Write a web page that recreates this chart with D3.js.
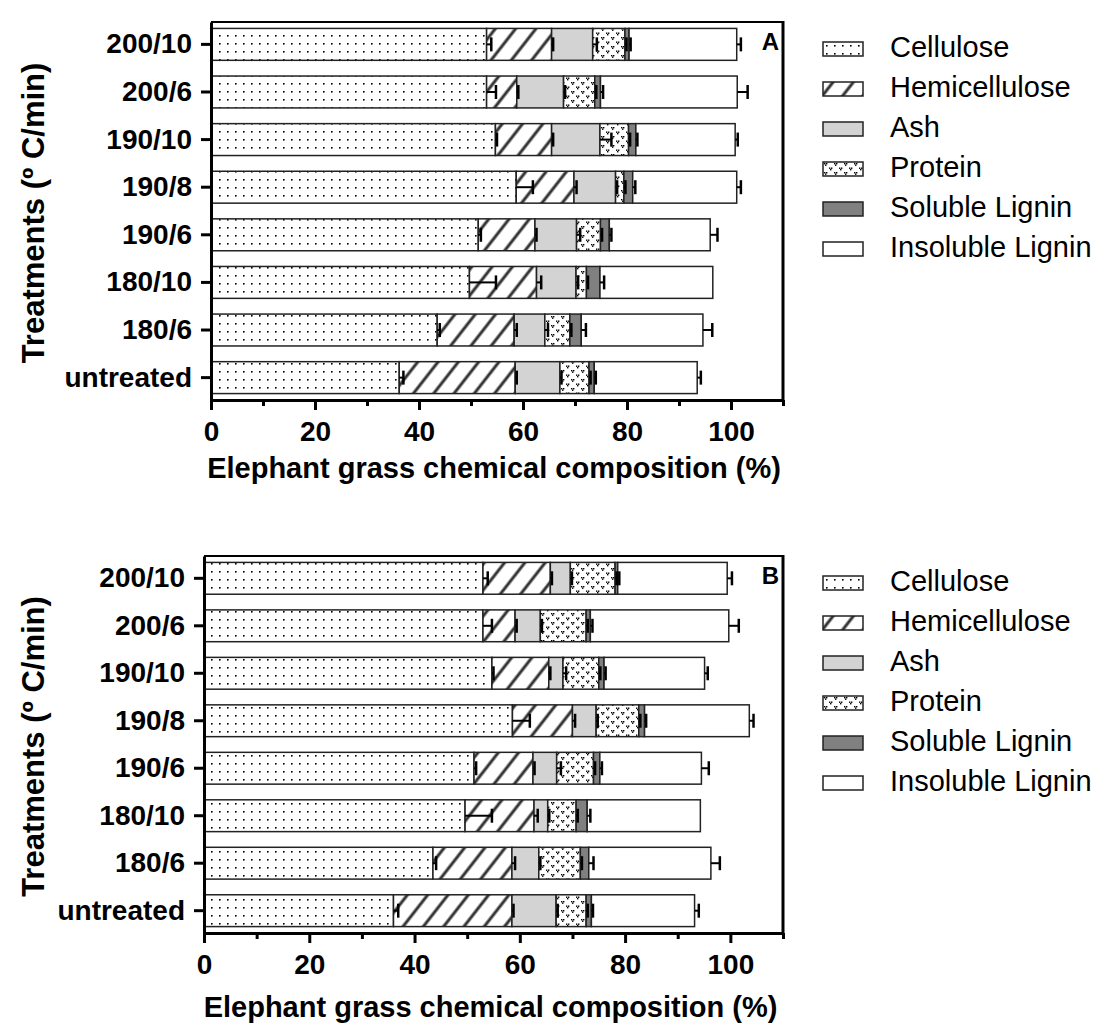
<!DOCTYPE html>
<html>
<head>
<meta charset="utf-8">
<script src="https://cdn.jsdelivr.net/npm/d3@7"></script>
<style>
  body { margin: 0; background: #fff; }
  text { font-family: "Liberation Sans", Arial, sans-serif; }
</style>
</head>
<body>
<script>
// categories, top to bottom
var treatments = ["200/10", "200/6", "190/10", "190/8", "190/6", "180/10", "180/6", "untreated"];
var components = ["Cellulose", "Hemicellulose", "Ash", "Protein", "Soluble Lignin", "Insoluble Lignin"];
var xTicks = [0, 20, 40, 60, 80, 100];
var xMinor = [10, 30, 50, 70, 90, 110];

// panel A: segment values (%) per component
var celluloseA = [53.0, 53.0, 54.7, 58.7, 51.4, 49.7, 43.5, 36.2];
var hemiA      = [12.5, 5.8, 10.8, 11.1, 10.9, 12.9, 14.8, 22.3];
var ashA       = [7.9, 9.0, 9.3, 8.0, 8.0, 7.6, 5.9, 8.6];
var proteinA   = [6.2, 6.0, 5.5, 1.6, 4.6, 2.0, 4.8, 5.6];
var solLigA    = [0.8, 1.1, 1.4, 1.7, 1.7, 2.6, 2.2, 1.0];
var insolLigA  = [20.7, 26.3, 19.1, 20.0, 19.4, 21.7, 23.4, 19.8];
// panel A: error (sd)
var celluloseErrA = [0.9, 1.8, 0.3, 3.2, 0.5, 5.1, 0.5, 0.8];
var hemiErrA      = [0.3, 0.3, 0.3, 0.5, 0.3, 0.9, 0.5, 0.3];
var ashErrA       = [0.8, 0.3, 2.2, 0.3, 0.7, 0.4, 0.6, 0.3];
var proteinErrA   = [0.3, 0.3, 0.3, 0.3, 0.3, 0.3, 0.3, 0.3];
var solLigErrA    = [0.3, 0.5, 0.3, 0.5, 0.4, 0.8, 0.9, 0.3];
var insolLigErrA  = [0.8, 2.0, 0.5, 0.8, 1.4, 0, 1.8, 0.7];

// panel B
var celluloseB = [53.0, 53.0, 54.7, 58.6, 51.3, 49.6, 43.5, 36.0];
var hemiB      = [12.8, 6.1, 10.8, 11.4, 11.2, 13.1, 15.0, 22.5];
var ashB       = [3.8, 4.8, 2.7, 4.5, 4.5, 2.6, 5.1, 8.4];
var proteinB   = [8.5, 8.7, 6.8, 8.1, 7.0, 5.4, 7.9, 5.7];
var solLigB    = [0.5, 0.8, 1.0, 1.1, 1.2, 2.1, 1.6, 1.0];
var insolLigB  = [20.8, 26.3, 19.1, 19.9, 19.3, 21.5, 23.2, 19.6];
var celluloseErrB = [0.9, 1.7, 0.3, 3.3, 0.4, 5.1, 0.6, 0.9];
var hemiErrB      = [0.3, 0.3, 0.3, 0.5, 0.3, 0.7, 0.6, 0.3];
var ashErrB       = [0.3, 0.3, 0.6, 0.3, 0.8, 0.3, 0.3, 0.3];
var proteinErrB   = [0.3, 0.3, 0.3, 0.3, 0.3, 0.3, 0.3, 0.3];
var solLigErrB    = [0.3, 0.4, 0.3, 0.3, 0.4, 0.6, 0.9, 0.3];
var insolLigErrB  = [0.9, 1.9, 0.6, 0.8, 1.4, 0, 1.7, 0.8];

var width = 1107, height = 1023;

var svg = d3.select("body").append("svg")
    .attr("width", width)
    .attr("height", height);

var defs = svg.append("defs");

// dotted fill for cellulose
var pCell = defs.append("pattern").attr("id", "pCell")
    .attr("patternUnits", "userSpaceOnUse").attr("width", 8).attr("height", 8);
pCell.append("rect").attr("width", 8).attr("height", 8).attr("fill", "#fff");
pCell.append("rect").attr("x", 3).attr("y", 3).attr("width", 1.6).attr("height", 1.6).attr("fill", "#000");

// diagonal hatch for hemicellulose
var pHemi = defs.append("pattern").attr("id", "pHemi")
    .attr("patternUnits", "userSpaceOnUse").attr("width", 16).attr("height", 16)
    .attr("patternTransform", "rotate(38)");
pHemi.append("rect").attr("width", 16).attr("height", 16).attr("fill", "#fff");
pHemi.append("line").attr("x1", 8).attr("x2", 8).attr("y1", 0).attr("y2", 16)
    .attr("stroke", "#333").attr("stroke-width", 3);

// speckled fill for protein
var pProt = defs.append("pattern").attr("id", "pProt")
    .attr("patternUnits", "userSpaceOnUse").attr("width", 10).attr("height", 9);
pProt.append("rect").attr("width", 10).attr("height", 9).attr("fill", "#fff");
[[1, 1], [3, 1], [2, 2.5], [6, 5.5], [8, 5.5], [7, 7]].forEach(function(p) {
    pProt.append("rect").attr("x", p[0]).attr("y", p[1]).attr("width", 1.4).attr("height", 1.4).attr("fill", "#000");
});

var fills = ["url(#pCell)", "url(#pHemi)", "#d3d3d3", "url(#pProt)", "#808080", "#fff"];

function drawPanel(opt, segs, errs) {
    var g = svg.append("g");

    var x = d3.scaleLinear().domain([0, 110]).range([opt.left, opt.right]);
    var y = d3.scaleBand().domain(treatments).range([opt.top, opt.bottom])
        .paddingInner(0.33).paddingOuter(0.135);

    // build stacked rows
    var rows = treatments.map(function(t, i) {
        var row = { name: t };
        components.forEach(function(c, k) { row[c] = segs[k][i]; });
        return row;
    });
    var stacked = d3.stack().keys(components)(rows);

    stacked.forEach(function(layer, k) {
        g.selectAll(null).data(layer).enter().append("rect")
            .attr("x", function(d) { return x(d[0]); })
            .attr("y", function(d) { return y(d.data.name); })
            .attr("width", function(d) { return x(d[1]) - x(d[0]); })
            .attr("height", y.bandwidth())
            .attr("fill", fills[k])
            .attr("stroke", "#222")
            .attr("stroke-width", 1.5);
    });

    // error bars at the end of each segment
    stacked.forEach(function(layer, k) {
        layer.forEach(function(d, i) {
            var e = errs[k][i];
            if (!e) return;
            var cy = y(d.data.name) + y.bandwidth() / 2;
            var x1 = x(d[1]), x2 = x(d[1] + e);
            g.append("line").attr("x1", x1).attr("x2", x2).attr("y1", cy).attr("y2", cy)
                .attr("stroke", "#000").attr("stroke-width", 2);
            g.append("line").attr("x1", x2).attr("x2", x2).attr("y1", cy - 7).attr("y2", cy + 7)
                .attr("stroke", "#000").attr("stroke-width", 2.5);
        });
    });

    // frame
    g.append("line").attr("x1", opt.left).attr("x2", opt.right).attr("y1", opt.top).attr("y2", opt.top)
        .attr("stroke", "#000").attr("stroke-width", 2);
    g.append("line").attr("x1", opt.right).attr("x2", opt.right).attr("y1", opt.top - 1).attr("y2", opt.bottom)
        .attr("stroke", "#000").attr("stroke-width", 3);

    // x axis
    var xAxis = g.append("g").attr("transform", "translate(0," + opt.bottom + ")")
        .call(d3.axisBottom(x).tickValues(xTicks).tickSize(10).tickSizeOuter(0).tickPadding(11));
    xAxis.select(".domain").attr("stroke-width", 3);
    xAxis.selectAll(".tick line").attr("stroke-width", 3);
    xAxis.selectAll(".tick text")
        .attr("font-size", 28).attr("font-weight", "bold").attr("fill", "#000");
    var xAxisMinor = g.append("g").attr("transform", "translate(0," + opt.bottom + ")")
        .call(d3.axisBottom(x).tickValues(xMinor).tickSize(6).tickFormat(""));
    xAxisMinor.select(".domain").remove();
    xAxisMinor.selectAll(".tick line").attr("stroke-width", 3);

    // y axis
    var yAxis = g.append("g").attr("transform", "translate(" + opt.left + ",0)")
        .call(d3.axisLeft(y).tickSize(10).tickSizeOuter(0).tickPadding(9));
    yAxis.select(".domain").attr("stroke-width", 3);
    yAxis.selectAll(".tick line").attr("stroke-width", 3);
    yAxis.selectAll(".tick text")
        .attr("font-size", 28).attr("font-weight", "bold").attr("fill", "#000");

    // axis titles
    g.append("text")
        .attr("x", (opt.left + opt.right) / 2 - 3).attr("y", opt.bottom + opt.titleOffset)
        .attr("text-anchor", "middle").attr("font-size", 29).attr("font-weight", "bold")
        .text("Elephant grass chemical composition (%)");
    g.append("text")
        .attr("transform", "translate(" + 44 + "," + ((opt.top + opt.bottom) / 2 + 2) + ") rotate(-90)")
        .attr("text-anchor", "middle").attr("font-size", 31).attr("font-weight", "bold")
        .text("Treatments (º C/min)");

    // panel letter
    g.append("text").attr("x", opt.right - 4).attr("y", opt.top + 28)
        .attr("text-anchor", "end").attr("font-size", 24).attr("font-weight", "bold")
        .text(opt.letter);

    // legend
    var leg = g.append("g").attr("transform", "translate(823," + (opt.top + 20) + ")");
    components.forEach(function(c, k) {
        var row = leg.append("g").attr("transform", "translate(0," + (k * 40) + ")");
        row.append("rect").attr("width", 40).attr("height", 14)
            .attr("fill", fills[k]).attr("stroke", "#222").attr("stroke-width", 1.5);
        row.append("text").attr("x", 67).attr("y", 15)
            .attr("font-size", 29).attr("fill", "#000").text(c);
    });
}

drawPanel({ left: 211, right: 783, top: 22, bottom: 400, letter: "A", titleOffset: 78 },
    [celluloseA, hemiA, ashA, proteinA, solLigA, insolLigA],
    [celluloseErrA, hemiErrA, ashErrA, proteinErrA, solLigErrA, insolLigErrA]);

drawPanel({ left: 204, right: 783, top: 556, bottom: 933, letter: "B", titleOffset: 84 },
    [celluloseB, hemiB, ashB, proteinB, solLigB, insolLigB],
    [celluloseErrB, hemiErrB, ashErrB, proteinErrB, solLigErrB, insolLigErrB]);
</script>
</body>
</html>
